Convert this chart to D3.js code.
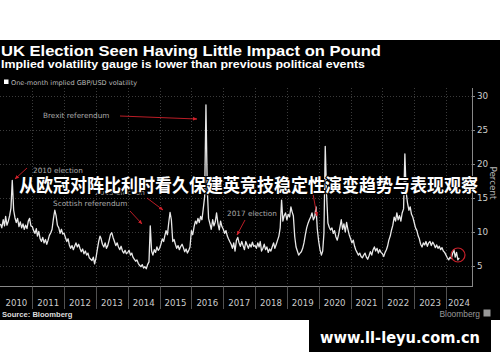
<!DOCTYPE html>
<html>
<head>
<meta charset="utf-8">
<script src="https://cdn.jsdelivr.net/npm/d3@7"></script>
<style>
  html, body { margin: 0; padding: 0; background: #fff; }
  svg { display: block; }
</style>
</head>
<body>
<svg id="chart" width="500" height="362"></svg>
<script>
// ── data (two points per month) ───────────────────────────
const years = [2010, 2011, 2012, 2013, 2014, 2015, 2016, 2017, 2018, 2019, 2020, 2021, 2022, 2023, 2024];
const vol2010 = [11.2, 10.6, 11.8, 10.9, 12.3, 11.0, 11.6, 12.4, 13.5, 17.6, 13.2, 12.1, 11.4, 12.0, 10.8, 11.5, 10.6, 11.2, 10.4, 11.0, 10.5, 11.6, 12.0, 10.9];
const vol2011 = [10.8, 10.2, 9.8, 10.5, 9.4, 10.1, 9.0, 8.6, 9.2, 8.4, 8.9, 8.2, 8.8, 9.5, 9.9, 10.4, 12.0, 13.2, 12.4, 11.0, 10.6, 9.8, 10.4, 9.7];
const vol2012 = [9.8, 9.2, 8.6, 9.0, 8.1, 7.6, 8.0, 7.4, 7.9, 8.4, 7.8, 8.2, 7.6, 7.1, 7.5, 6.8, 7.2, 6.6, 6.9, 6.2, 6.0, 5.8, 6.3, 5.3];
const vol2013 = [6.2, 7.4, 8.6, 9.4, 9.0, 8.2, 7.8, 8.4, 7.6, 8.0, 8.8, 9.6, 9.9, 9.2, 8.6, 8.0, 8.4, 7.8, 7.4, 7.9, 7.2, 6.9, 7.3, 6.8];
const vol2014 = [7.0, 7.3, 6.6, 6.9, 6.3, 6.0, 5.7, 5.9, 5.4, 5.1, 4.9, 5.2, 4.7, 4.9, 4.6, 5.2, 5.6, 10.9, 7.2, 6.6, 7.4, 7.0, 7.8, 7.3];
const vol2015 = [7.6, 8.2, 9.0, 8.6, 9.4, 10.2, 9.6, 11.4, 12.9, 11.8, 8.6, 8.9, 8.2, 7.6, 8.0, 7.4, 7.9, 8.2, 7.7, 7.1, 7.5, 6.9, 7.3, 7.8];
const vol2016 = [10.2, 9.6, 10.8, 11.6, 11.2, 12.0, 11.4, 12.3, 11.8, 13.4, 15.2, 28.7, 16.4, 12.0, 11.2, 10.4, 11.8, 10.9, 11.5, 12.8, 11.2, 10.3, 11.6, 10.8];
const vol2017 = [10.4, 9.8, 10.2, 9.4, 9.0, 8.6, 8.2, 7.6, 8.4, 7.2, 8.8, 9.2, 8.4, 7.9, 8.6, 8.0, 7.4, 8.6, 8.1, 7.6, 8.2, 7.8, 8.5, 7.9];
const vol2018 = [8.0, 7.6, 8.4, 7.8, 8.6, 7.2, 7.6, 8.2, 7.4, 7.8, 7.0, 7.5, 7.2, 7.8, 8.4, 7.6, 8.2, 8.8, 9.4, 10.6, 14.7, 11.6, 12.4, 12.8];
const vol2019 = [11.8, 12.6, 12.2, 13.7, 13.0, 12.4, 9.3, 7.8, 7.2, 6.6, 6.9, 7.1, 7.6, 8.4, 9.6, 10.6, 11.3, 11.8, 12.2, 12.8, 11.8, 12.2, 13.7, 10.4];
const vol2020 = [8.6, 7.4, 6.6, 7.2, 9.8, 22.6, 15.4, 11.3, 10.7, 10.3, 10.6, 9.8, 10.2, 9.3, 8.8, 9.6, 10.7, 11.8, 10.4, 11.2, 10.0, 11.4, 10.4, 9.6];
const vol2021 = [9.0, 8.4, 8.8, 7.9, 7.4, 7.0, 6.6, 6.9, 6.4, 6.2, 6.6, 6.9, 6.3, 6.0, 6.5, 7.1, 6.6, 7.4, 7.8, 7.2, 7.6, 6.9, 7.4, 7.0];
const vol2022 = [6.8, 6.4, 7.0, 7.4, 7.9, 8.8, 9.4, 10.3, 11.0, 12.2, 11.6, 12.8, 11.8, 12.4, 11.6, 12.8, 13.4, 21.5, 15.8, 14.3, 13.2, 13.7, 12.6, 12.2];
const vol2023 = [11.4, 10.6, 10.2, 9.4, 9.0, 8.2, 7.8, 8.4, 8.1, 8.6, 7.9, 8.4, 8.6, 8.0, 8.5, 8.2, 7.7, 8.1, 7.6, 7.9, 7.4, 7.7, 7.2, 7.0];
const vol2024 = [6.6, 6.2, 5.9, 6.3, 6.1, 6.8, 7.4, 6.3, 7.0, 5.9, 6.2];
const yTicks = [5, 10, 15, 20, 25, 30];

const volByYear = [vol2010, vol2011, vol2012, vol2013, vol2014, vol2015, vol2016,
  vol2017, vol2018, vol2019, vol2020, vol2021, vol2022, vol2023, vol2024];

// 1일, 16일 두 점씩
const series = [];
volByYear.forEach((vals, k) => {
  vals.forEach((v, i) => {
    series.push({ date: new Date(years[k], Math.floor(i / 2), i % 2 ? 16 : 1), v });
  });
});

// ── layout ────────────────────────────────────────────────
const LEFT = 0, RIGHT = 472, TOP = 88, BOTTOM = 286;
const svg = d3.select("#chart");

svg.append("rect").attr("x", 0).attr("y", 40).attr("width", 500).attr("height", 280).attr("fill", "#000");

const x = d3.scaleTime()
  .domain([new Date(2010, 0, 1), new Date(2024, 0, 1)])
  .range([0.5, 446]);
const y = d3.scaleLinear().domain([5, 30]).range([266, 96]);

// 제목
svg.append("text").attr("x", 1).attr("y", 56)
  .attr("font-family", "Liberation Sans, Arial, sans-serif").attr("font-weight", "bold")
  .attr("font-size", 15.5).attr("fill", "#fff")
  .attr("textLength", 380).attr("lengthAdjust", "spacingAndGlyphs")
  .text("UK Election Seen Having Little Impact on Pound");
svg.append("text").attr("x", 1).attr("y", 68)
  .attr("font-family", "Liberation Sans, Arial, sans-serif").attr("font-weight", "bold")
  .attr("font-size", 10.5).attr("fill", "#fff")
  .attr("textLength", 364).attr("lengthAdjust", "spacingAndGlyphs")
  .text("Implied volatility gauge is lower than previous political events");

// 범례
svg.append("rect").attr("x", 4).attr("y", 79.5).attr("width", 4.5).attr("height", 4.5).attr("fill", "#fff");
svg.append("text").attr("x", 11).attr("y", 84.5)
  .attr("font-family", "DejaVu Sans, sans-serif").attr("font-size", 6.6).attr("fill", "#bbb")
  .text("One-month implied GBP/USD volatility");

// 그리드
const grid = svg.append("g").attr("stroke", "#4a4a4a").attr("stroke-width", 0.8).attr("stroke-dasharray", "1,2");
grid.selectAll("line.h").data(yTicks).join("line").attr("class", "h")
  .attr("x1", LEFT).attr("x2", RIGHT)
  .attr("y1", d => Math.round(y(d)) + 0.5).attr("y2", d => Math.round(y(d)) + 0.5);
const yearStarts = years.slice(1).map(yr => new Date(yr, 0, 1));
grid.selectAll("line.v").data(yearStarts).join("line").attr("class", "v")
  .attr("x1", d => Math.round(x(d)) + 0.5).attr("x2", d => Math.round(x(d)) + 0.5)
  .attr("y1", TOP).attr("y2", BOTTOM);

// x 축: 구분선 + 연도 라벨
svg.append("line").attr("x1", LEFT).attr("x2", RIGHT).attr("y1", BOTTOM + 0.5).attr("y2", BOTTOM + 0.5)
  .attr("stroke", "#888").attr("stroke-width", 1);
svg.append("g").selectAll("line").data(yearStarts).join("line")
  .attr("x1", d => Math.round(x(d)) + 0.5).attr("x2", d => Math.round(x(d)) + 0.5)
  .attr("y1", BOTTOM).attr("y2", 309).attr("stroke", "#666").attr("stroke-width", 0.8);
svg.append("g").selectAll("text").data(years).join("text")
  .attr("x", yr => {
    const a = x(new Date(yr, 0, 1)), b = Math.min(RIGHT, x(new Date(yr + 1, 0, 1)));
    return (a + b) / 2;
  })
  .attr("y", 306)
  .attr("text-anchor", "middle")
  .attr("font-family", "DejaVu Sans, sans-serif").attr("font-size", 8.6).attr("fill", "#ccc")
  .text(d => d);

// y 축 (오른쪽)
svg.append("line").attr("x1", RIGHT + 0.5).attr("x2", RIGHT + 0.5).attr("y1", TOP).attr("y2", BOTTOM + 1)
  .attr("stroke", "#888").attr("stroke-width", 1);
const yAxis = svg.append("g").attr("transform", `translate(${RIGHT},0)`)
  .call(d3.axisRight(y).tickValues(yTicks).tickSize(3).tickPadding(2));
yAxis.select(".domain").remove();
yAxis.selectAll("line").attr("stroke", "#888");
yAxis.selectAll("text").attr("fill", "#ccc").attr("font-size", 8.8).attr("font-family", "DejaVu Sans, sans-serif");
svg.append("text").attr("transform", "translate(490,183) rotate(90)")
  .attr("text-anchor", "middle").attr("font-family", "DejaVu Sans, sans-serif")
  .attr("font-size", 8.8).attr("fill", "#bbb").text("Percent");

// 데이터 라인
const line = d3.line().x(d => x(d.date)).y(d => y(d.v));
svg.append("path").datum(series)
  .attr("d", line).attr("fill", "none")
  .attr("stroke", "#e8e8e8").attr("stroke-width", 1.3).attr("stroke-linejoin", "round");

// 주석 (빨간 화살표)
const defs = svg.append("defs");
defs.append("marker").attr("id", "arr")
  .attr("viewBox", "0 0 10 10").attr("refX", 9).attr("refY", 5)
  .attr("markerWidth", 5).attr("markerHeight", 5).attr("orient", "auto")
  .append("path").attr("d", "M0 1L10 5L0 9z").attr("fill", "#d0202a");

const notes = [
  { t: "Brexit referendum", tx: 43, ty: 118, a: [120, 116, 197, 119] },
  { t: "2010 election", tx: 33, ty: 173, a: [27, 168, 15, 179] },
  { t: "2015 election", tx: 95, ty: 195, a: [147, 198, 163, 210] },
  { t: "Scottish referendum", tx: 53, ty: 206, a: [130, 211, 142, 224] },
  { t: "2017 election", tx: 227, ty: 216, a: [245, 220, 237, 235] },
  { t: "", tx: 0, ty: 0, a: [313, 194, 317, 216] }
];
const ann = svg.append("g");
ann.selectAll("text").data(notes.filter(d => d.t)).join("text")
  .attr("x", d => d.tx).attr("y", d => d.ty)
  .attr("font-family", "DejaVu Sans, sans-serif").attr("font-size", 7.3).attr("fill", "#aaa")
  .text(d => d.t);
ann.selectAll("line").data(notes).join("line")
  .attr("x1", d => d.a[0]).attr("y1", d => d.a[1]).attr("x2", d => d.a[2]).attr("y2", d => d.a[3])
  .attr("stroke", "#d0202a").attr("stroke-width", 0.9).attr("marker-end", "url(#arr)");

// 최근 값 동그라미
svg.append("circle").attr("cx", 458).attr("cy", 255).attr("r", 7)
  .attr("fill", "none").attr("stroke", "#c8202a").attr("stroke-width", 1.2);

// 출처
svg.append("text").attr("x", 2).attr("y", 316.5)
  .attr("font-family", "Liberation Sans, Arial, sans-serif").attr("font-weight", "bold")
  .attr("font-size", 7.6).attr("fill", "#ddd").text("Source: Bloomberg");
svg.append("text").attr("x", 480).attr("y", 316.5).attr("text-anchor", "end")
  .attr("font-family", "Liberation Sans, Arial, sans-serif").attr("font-size", 8.4)
  .attr("fill", "#999").text("Bloomberg");
svg.append("rect").attr("x", 483.5).attr("y", 309.5).attr("width", 7).attr("height", 7)
  .attr("fill", "#999");

// 오버레이 문구
svg.append("text").attr("x", 19).attr("y", 192)
  .attr("font-family", "Noto Sans CJK SC, sans-serif").attr("font-weight", "bold")
  .attr("font-size", 18.3).attr("fill", "#fff")
  .attr("stroke", "#000").attr("stroke-width", 2.2).attr("paint-order", "stroke")
  .attr("textLength", 459).attr("lengthAdjust", "spacingAndGlyphs")
  .text("从欧冠对阵比利时看久保建英竞技稳定性演变趋势与表现观察");

// 워터마크 박스
svg.append("rect").attr("x", 309).attr("y", 320).attr("width", 182).attr("height", 32).attr("fill", "#000");
svg.append("text").attr("x", 400).attr("y", 343).attr("text-anchor", "middle")
  .attr("font-family", "DejaVu Sans, sans-serif").attr("font-weight", "bold")
  .attr("font-size", 15.5).attr("fill", "#fff")
  .attr("textLength", 160).attr("lengthAdjust", "spacingAndGlyphs")
  .text("www.ll-leyu.com.cn");
</script>
</body>
</html>
